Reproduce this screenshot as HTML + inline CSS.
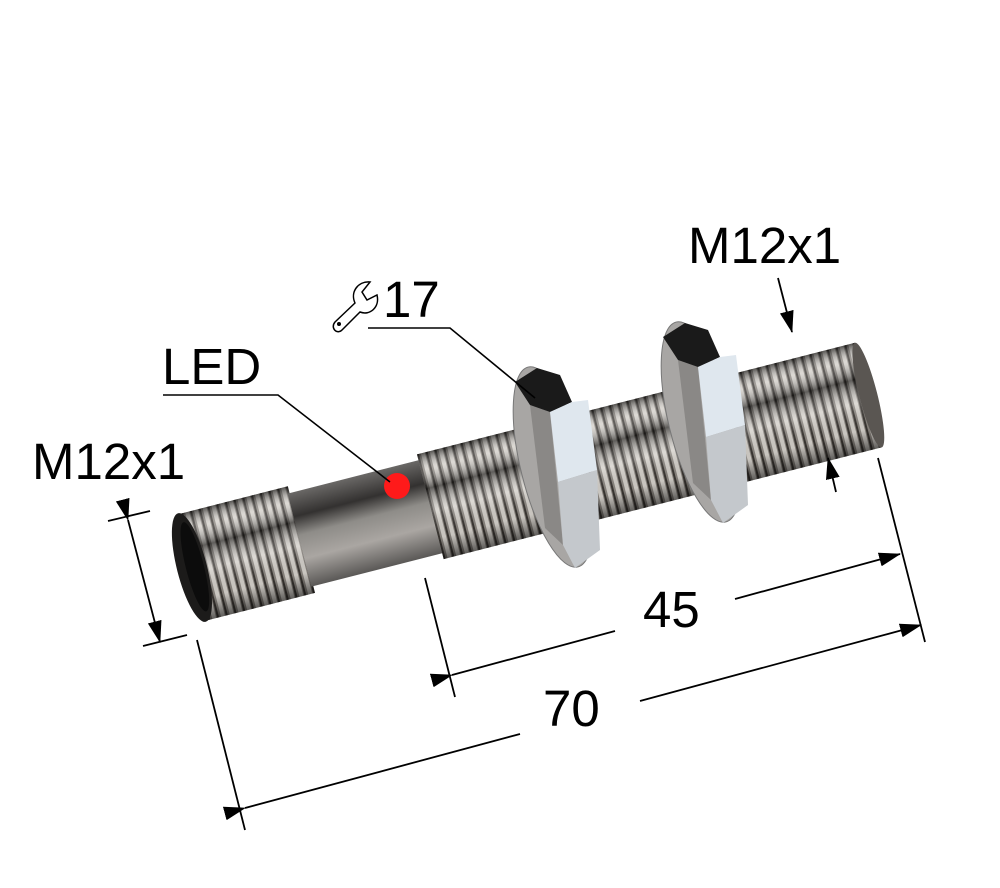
<!DOCTYPE html>
<html><head><meta charset="utf-8"><style>
html,body{margin:0;padding:0;background:#fff;}
svg{display:block}
text{font-family:"Liberation Sans",Arial,sans-serif;fill:#000}
</style></head><body>
<svg width="1000" height="888" viewBox="0 0 1000 888" xmlns="http://www.w3.org/2000/svg">
<defs>
<pattern id="thr" width="9" height="200" patternUnits="userSpaceOnUse" patternTransform="translate(0,-100)">
<rect width="9" height="200" fill="#8a857f"/>
<rect x="0" width="4" height="200" fill="#d4d0ca"/>
<rect x="5" width="2" height="200" fill="#3a3632"/>
</pattern>
<linearGradient id="shade" x1="0" y1="0" x2="0" y2="1">
<stop offset="0" stop-color="#000" stop-opacity="0.6"/>
<stop offset="0.15" stop-color="#fff" stop-opacity="0.2"/>
<stop offset="0.33" stop-color="#000" stop-opacity="0.55"/>
<stop offset="0.55" stop-color="#fff" stop-opacity="0.2"/>
<stop offset="0.8" stop-color="#000" stop-opacity="0.05"/>
<stop offset="1" stop-color="#000" stop-opacity="0.55"/>
</linearGradient>
<linearGradient id="smooth" x1="0" y1="0" x2="0" y2="1">
<stop offset="0" stop-color="#6a6866"/>
<stop offset="0.25" stop-color="#333130"/>
<stop offset="0.45" stop-color="#8e8c88"/>
<stop offset="0.7" stop-color="#aaa6a2"/>
<stop offset="1" stop-color="#5a5856"/>
</linearGradient>
<marker id="ah" markerWidth="22" markerHeight="14" refX="21" refY="7" orient="auto" markerUnits="userSpaceOnUse" viewBox="0 0 22 14">
<path d="M0,0 L22,7 L0,14 Z" fill="#000"/>
</marker>
</defs>

<!-- body -->
<g transform="translate(190,568) rotate(-14.3)">
<rect x="0" y="-55" width="115" height="110" fill="url(#thr)"/>
<rect x="0" y="-55" width="115" height="110" fill="url(#shade)"/>
<rect x="113" y="-48" width="137" height="96" fill="url(#smooth)"/>
<rect x="248" y="-54" width="452" height="108" fill="url(#thr)"/>
<rect x="248" y="-54" width="452" height="108" fill="url(#shade)"/>
<ellipse cx="700" cy="0" rx="9" ry="54" fill="#5a5652"/>
<ellipse cx="2" cy="0" rx="15" ry="56" fill="#1c1b1a"/>
<ellipse cx="5" cy="0" rx="9" ry="46" fill="#0c0c0c"/>
</g>

<!-- nuts -->
<g>
<ellipse cx="553" cy="467" rx="32" ry="103" transform="rotate(-14 553 467)" fill="#a8a6a4" stroke="#777" stroke-width="1"/>
<path d="M530,405 L550,412 L563,545 L545,528 Z" fill="#8a8886"/>
<path d="M515,382 L537,368 L560,375 L572,402 L550,412 L530,405 Z" fill="#1a1a1a"/>
<path d="M550,412 L572,402 L588,400 L597,470 L558,482 Z" fill="#dfe7ee"/>
<path d="M558,482 L597,470 L600,550 L575,568 L563,545 Z" fill="#c4c8cc"/>
</g>
<g transform="translate(148,-45)">
<ellipse cx="553" cy="467" rx="32" ry="103" transform="rotate(-14 553 467)" fill="#a8a6a4" stroke="#777" stroke-width="1"/>
<path d="M530,405 L550,412 L563,545 L545,528 Z" fill="#8a8886"/>
<path d="M515,382 L537,368 L560,375 L572,402 L550,412 L530,405 Z" fill="#1a1a1a"/>
<path d="M550,412 L572,402 L588,400 L597,470 L558,482 Z" fill="#dfe7ee"/>
<path d="M558,482 L597,470 L600,550 L575,568 L563,545 Z" fill="#c4c8cc"/>
</g>

<!-- LED -->
<circle cx="397" cy="486" r="13" fill="#ff1a1a"/>

<!-- leaders -->
<g stroke="#000" stroke-width="1.6" fill="none">
<polyline points="163,395 278,395 390,482"/>
<polyline points="368,328 450,328 535,398"/>
</g>

<!-- dimensions -->
<g stroke="#000" stroke-width="1.8" fill="none">
<line x1="197" y1="640" x2="245" y2="830"/>
<line x1="878" y1="458" x2="925" y2="642"/>
<line x1="425" y1="578" x2="455" y2="697"/>
<line x1="245" y1="808" x2="520" y2="734" marker-start="url(#ah)"/>
<line x1="640" y1="701" x2="921" y2="625" marker-end="url(#ah)"/>
<line x1="452" y1="675" x2="615" y2="631" marker-start="url(#ah)"/>
<line x1="735" y1="599" x2="900" y2="554" marker-end="url(#ah)"/>
<line x1="108" y1="521" x2="150" y2="511"/>
<line x1="143" y1="646" x2="187" y2="635"/>
<line x1="128" y1="520" x2="160" y2="642" marker-start="url(#ah)" marker-end="url(#ah)"/>
<line x1="778" y1="278" x2="792" y2="332" marker-end="url(#ah)"/>
<line x1="836" y1="492" x2="828" y2="458" marker-end="url(#ah)"/>
</g>

<!-- wrench icon -->
<path d="M335,322 L355,303 C350,292 358,281 370,282 L362,292 L367,300 L377,295 C380,307 370,316 360,312 L342,330 C337,335 330,328 335,322 Z" fill="#fff" stroke="#000" stroke-width="1.5"/>
<circle cx="339" cy="324" r="2" fill="#000"/>

<!-- labels -->
<text x="32" y="479" font-size="51">M12x1</text>
<text x="688" y="263" font-size="51">M12x1</text>
<text x="162" y="384" font-size="51">LED</text>
<text x="383" y="317" font-size="51">17</text>
<text x="643" y="627" font-size="51">45</text>
<text x="543" y="726" font-size="51">70</text>
</svg>
</body></html>
